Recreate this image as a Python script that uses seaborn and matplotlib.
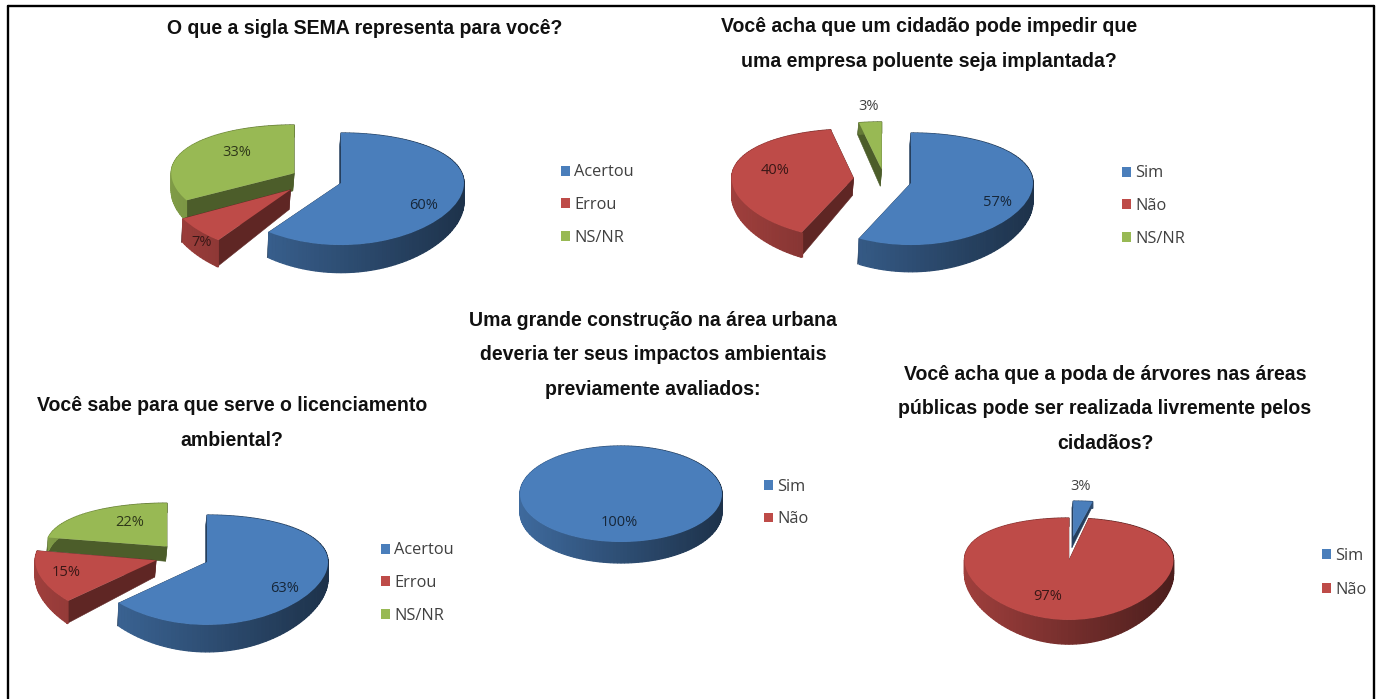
import numpy as np
import matplotlib
matplotlib.use("Agg")
import matplotlib.pyplot as plt
from matplotlib.lines import Line2D
import seaborn as sns

# Survey answers, in percent
sema_labels = ["Acertou", "Errou", "NS/NR"]
sema_values = [60, 7, 33]
empresa_labels = ["Sim", "Não", "NS/NR"]
empresa_values = [57, 40, 3]
licenciamento_labels = ["Acertou", "Errou", "NS/NR"]
licenciamento_values = [63, 15, 22]
construcao_labels = ["Sim", "Não"]
construcao_values = [100, 0]
poda_labels = ["Sim", "Não"]
poda_values = [3, 97]

sema_title = "O que a sigla SEMA representa para você?"
empresa_title = "Você acha que um cidadão pode impedir que\numa empresa poluente seja implantada?"
licenciamento_title = "Você sabe para que serve o licenciamento\nambiental?"
construcao_title = "Uma grande construção na área urbana\ndeveria ter seus impactos ambientais\npreviamente avaliados:"
poda_title = "Você acha que a poda de árvores nas áreas\npúblicas pode ser realizada livremente pelos\ncidadãos?"

W, H = 1380, 699
sns.set_theme(style="white")
plt.rcParams["font.family"] = ["Liberation Sans", "DejaVu Sans"]
palette = sns.color_palette(["#4A7EBB", "#BE4B48", "#98B954"])

fig = plt.figure(figsize=(W / 100, H / 100), dpi=100, facecolor="white")


def fx(px):
    return px / W


def fy(py):
    return 1 - py / H


def pie3d(values, labels, title, title_xy, center, rx, ry, persp, depth,
          offsets, label_xy, outside, legend_xy, legend_pitch):
    """One tilted, extruded pie with exploded slices, title and legend."""
    cx, cy = center
    span = 1.9
    ax = fig.add_axes([fx(cx - span * rx), fy(cy + span * ry),
                       2 * span * rx / W, 2 * span * ry / H])
    colors = palette[:len(values)]
    wedges, _ = ax.pie(values, startangle=90, counterclock=False, colors=colors,
                       radius=1, frame=False, wedgeprops={"linewidth": 0})
    ax.set_aspect("auto")

    def forward(y):
        return np.asarray(y) / (1 + persp * np.asarray(y))

    def inverse(z):
        return np.asarray(z) / (1 - persp * np.asarray(z))

    ax.set_yscale("function", functions=(forward, inverse))
    ax.set_xlim(-span, span)
    ax.set_ylim(inverse(-span), inverse(span))

    def lower(y):
        return y - depth * (1 - 0.15 * y)

    mids = [np.deg2rad((w.theta1 + w.theta2) / 2) for w in wedges]
    ranks = np.argsort(np.argsort([-(np.sin(m) + off[1]) for m, off in zip(mids, offsets)]))
    for w, colour, off, rank, v in zip(wedges, colors, offsets, ranks, values):
        w.set_center(off)
        w.set_zorder(rank * 10 + 3)
        if v == 0:
            continue
        base = np.array(colour)
        dx, dy = off
        # flat cut faces between the centre and the rim, seen slightly from the right
        if v < 100:
            for a in (w.theta1, w.theta2):
                t = np.deg2rad(a)
                xs = np.array([dx, dx + np.cos(t)])
                ys = np.array([dy, dy + np.sin(t)])
                ax.fill(np.r_[xs, xs[::-1] - 0.012], np.r_[ys, lower(ys)[::-1]],
                        color=base * 0.5, lw=0.4, zorder=rank * 10 + 1)
        # outer rim, darker toward the right
        angles = np.arange(w.theta1, w.theta2 + 2, 2.0)
        angles[-1] = w.theta2
        for a0, a1 in zip(angles[:-1], angles[1:]):
            t = np.deg2rad(np.linspace(a0, a1, 3))
            xs = dx + np.cos(t)
            ys = dy + np.sin(t)
            shade = 0.62 - 0.22 * np.cos(t.mean())
            ax.fill(np.r_[xs, xs[::-1]], np.r_[ys, lower(ys)[::-1]],
                    color=base * shade, lw=0.9, zorder=rank * 10 + 2)
    ax.axis("off")

    # percent labels
    for v, xy, colour, out in zip(values, label_xy, colors, outside):
        if xy is None:
            continue
        tone = "#404040" if out else tuple(np.array(colour) * 0.3)
        fig.text(fx(xy[0]), fy(xy[1]), f"{v}%", ha="center", va="center",
                 fontsize=10.5, color=tone, family=["Open Sans", "DejaVu Sans"])

    # legend
    size = 11.8
    em = size * 100 / 72
    ax.legend(wedges, labels, loc="center left",
              bbox_to_anchor=(fx(legend_xy[0]), fy(legend_xy[1])),
              bbox_transform=fig.transFigure, frameon=False, borderpad=0,
              borderaxespad=0, handlelength=0.55, handleheight=0.55,
              handletextpad=0.25, labelspacing=(legend_pitch - em) / em,
              prop={"family": "Open Sans", "size": size}, labelcolor="#404040")

    # title
    fig.text(fx(title_xy[0]), fy(title_xy[1]), title, ha="center", va="center",
             ma="center", fontsize=14.05, fontweight="bold", color="#111111",
             linespacing=2.05)


pie3d(sema_values, sema_labels, sema_title, (365, 29), (341, 183), 123, 55.4, 0.107, 0.33,
      [(0, 0), (-0.41, -0.12), (-0.38, 0.18)],
      [(424, 205), (202, 242), (237, 152)], [False] * 3, (561, 205), 33)

pie3d(empresa_values, empresa_labels, empresa_title, (929, 44), (911, 183), 122, 55.4, 0.107, 0.32,
      [(0, 0), (-0.47, 0.09), (-0.24, 0.25)],
      [(998, 202), (775, 171), (869, 107)], [False, False, True], (1122, 206), 33)

pie3d(licenciamento_values, licenciamento_labels, licenciamento_title, (232, 423), (207, 562), 121, 53.8, 0.145, 0.30,
      [(0, 0), (-0.42, 0.03), (-0.33, 0.30)],
      [(285, 588), (66, 572), (130, 523)], [False] * 3, (381, 583), 33)

pie3d(construcao_values, construcao_labels, construcao_title, (653, 355), (621, 494), 101, 48, 0.0, 0.38,
      [(0, 0), (0, 0)],
      [(619, 523), None], [False, False], (764, 503), 33)

pie3d(poda_values, poda_labels, poda_title, (1105, 409), (1069, 560), 104.5, 49.4, 0.176, 0.27,
      [(0.04, 0.51), (0, 0)],
      [(1081, 487), (1048, 597)], [True, False], (1322, 573), 34)

# Page frame: open at the bottom
for xs, ys in [((7.5, 7.5), (6, 699)), ((7.5, 1374), (6, 6)), ((1374, 1374), (6, 699))]:
    fig.add_artist(Line2D([fx(x) for x in xs], [fy(y) for y in ys],
                          color="black", lw=1.7, transform=fig.transFigure))

fig.savefig("out.png", dpi=100, facecolor="white")
